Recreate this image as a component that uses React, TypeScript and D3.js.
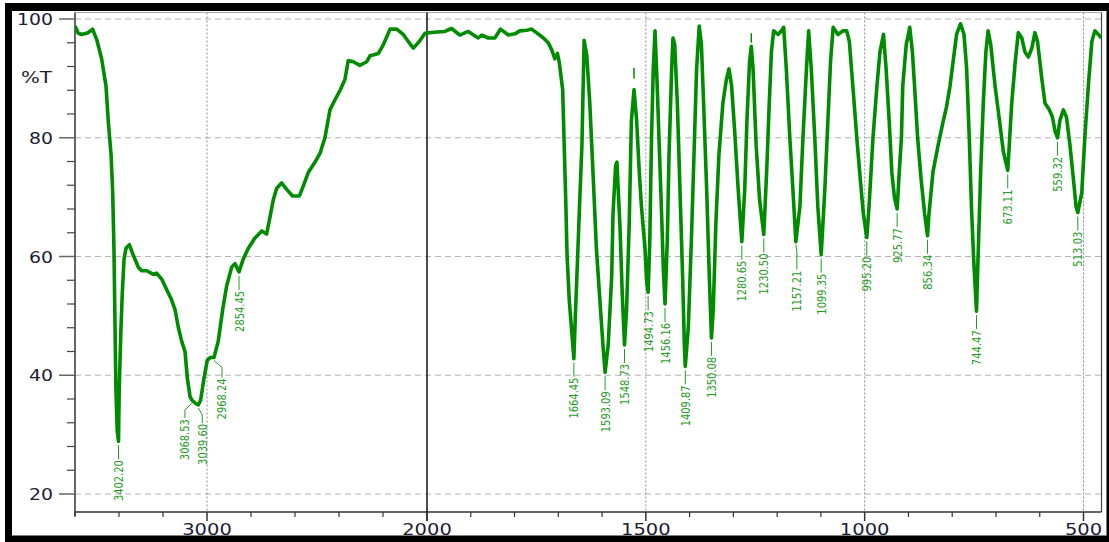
import React from "react";
import * as d3 from "d3";

// IR spectrum, wavenumber (cm-1) and %T
const wavenumbers = [
  3600, 3585, 3570, 3540, 3520, 3501, 3479, 3459, 3449, 3436, 3429, 3423, 3418, 3414, 3408, 3402.2, 3399, 3392, 3385, 3377,
  3368, 3353, 3335, 3312, 3297, 3274, 3244, 3229, 3206, 3183, 3161, 3145, 3130, 3115, 3100, 3089, 3077, 3068.53, 3050, 3039.6,
  3029, 3014, 2999, 2985, 2968.24, 2949, 2929, 2911, 2888, 2873, 2854.45, 2835, 2812, 2782, 2751, 2729, 2717, 2699, 2683, 2661,
  2638, 2611, 2580, 2562, 2539, 2509, 2486, 2464, 2441, 2418, 2395, 2373, 2358, 2335, 2305, 2274, 2259, 2221, 2198, 2168,
  2138, 2108, 2085, 2062, 2035, 2009,
  1978, 1959, 1944, 1925, 1906, 1883, 1875, 1860, 1845, 1832, 1814, 1799, 1788, 1772, 1761, 1750, 1734, 1723, 1715, 1708,
  1702, 1698, 1690, 1687, 1683, 1680, 1675, 1670, 1664.45, 1661, 1656, 1651, 1646, 1641, 1635, 1628, 1620, 1613, 1605, 1598,
  1593.09, 1586, 1578, 1575, 1569, 1566, 1562, 1559, 1554, 1548.73, 1544, 1538, 1533, 1527, 1521, 1515, 1510, 1502, 1498, 1494.73,
  1491, 1487, 1483, 1479, 1474, 1470, 1464, 1460, 1456.16, 1451, 1447, 1441, 1438, 1434, 1428, 1422, 1416, 1412, 1409.87, 1403,
  1396, 1390, 1384, 1378, 1373, 1368, 1361, 1355, 1350.08, 1346, 1340, 1333, 1324, 1316, 1310, 1304, 1297, 1289, 1284, 1280.65,
  1274, 1269, 1263, 1259, 1255, 1248, 1240, 1230.5, 1224, 1218, 1213, 1208, 1198, 1190, 1185, 1179, 1171, 1164, 1157.21, 1148,
  1141, 1133, 1128, 1122, 1114, 1107, 1099.35, 1091, 1084, 1078, 1072, 1061, 1050, 1041, 1035, 1027, 1018, 1010, 1003, 995.2,
  990, 981, 972, 965, 957, 951, 944, 938, 932, 925.77, 921, 916, 913, 905, 897, 891, 886, 879, 871, 863,
  856.34, 853, 844, 832, 822, 813, 805, 798, 790, 781, 773, 767, 761, 756, 751, 744.47, 741, 735, 729, 723,
  718, 712, 702, 692, 683, 673.11, 670, 664, 656, 649, 641, 634, 626, 618, 611, 605, 596, 588, 578, 571,
  565, 559.32, 554, 546, 539, 531, 523, 517, 513.03, 504, 497, 489, 481, 474, 466, 459,
];
const transmittance = [
  98.8, 97.6, 97.4, 97.7, 98.3, 96.5, 93.3, 88.7, 82.9, 77.1, 71.2, 61.4, 48.0, 37.6, 30.6, 28.9, 37.6, 46.9, 53.9, 59.6,
  61.4, 62.0, 60.2, 58.2, 57.6, 57.6, 57.0, 57.2, 56.2, 54.4, 52.7, 51.0, 48.0, 45.7, 44.0, 39.4, 36.4, 35.8, 35.2, 35.0,
  35.8, 39.4, 42.5, 43.0, 43.0, 45.7, 51.0, 55.0, 58.2, 58.8, 57.4, 59.6, 61.4, 63.1, 64.3, 63.8, 66.0, 69.5, 71.5, 72.4,
  71.3, 70.2, 70.2, 71.9, 74.2, 75.9, 77.4, 80.0, 84.7, 86.4, 88.0, 89.8, 93.0, 92.8, 92.2, 92.8, 93.8, 94.2, 95.7, 98.3,
  98.3, 97.4, 96.2, 95.1, 96.2, 97.6,
  97.8, 97.9, 98.4, 97.3, 97.9, 96.8, 97.3, 96.8, 96.8, 98.3, 97.3, 97.5, 98.0, 98.1, 98.3, 97.7, 96.8, 96.0, 94.8, 93.3,
  94.2, 92.8, 88.1, 80.0, 69.5, 60.3, 52.7, 48.0, 42.8, 50.0, 59.6, 69.5, 78.8, 96.4, 93.9, 85.8, 73.0, 61.4, 52.7, 45.1,
  40.5, 45.1, 56.7, 67.2, 75.3, 75.9, 69.5, 64.9, 53.9, 45.1, 51.0, 65.5, 82.9, 88.1, 82.9, 74.2, 68.4, 61.4, 55.6, 54.0,
  62.6, 80.0, 91.6, 98.0, 88.7, 80.0, 67.2, 57.9, 52.0, 62.6, 77.1, 91.6, 96.8, 95.7, 85.8, 71.3, 56.7, 45.1, 41.5, 48.0,
  62.6, 77.1, 91.6, 98.8, 95.7, 85.8, 71.3, 56.7, 46.3, 51.0, 65.5, 77.1, 85.8, 89.8, 91.6, 88.7, 81.1, 71.3, 66.0, 62.5,
  71.3, 82.9, 92.8, 95.4, 91.6, 78.8, 69.5, 63.7, 74.2, 85.8, 94.5, 98.0, 97.4, 98.0, 98.6, 91.6, 80.0, 71.3, 62.5, 68.4,
  80.0, 91.6, 98.0, 91.6, 80.0, 68.4, 60.3, 71.3, 82.9, 92.8, 98.6, 97.4, 98.0, 98.0, 96.2, 88.7, 80.0, 73.0, 67.2, 63.2,
  68.4, 80.0, 88.7, 94.5, 97.4, 91.6, 82.9, 74.2, 70.0, 68.0, 74.2, 80.0, 88.7, 95.7, 98.6, 94.5, 88.7, 80.0, 73.0, 67.2,
  63.5, 67.2, 74.2, 78.8, 82.3, 85.2, 88.7, 92.8, 97.4, 99.2, 97.4, 91.6, 80.0, 68.4, 59.6, 50.8, 59.6, 74.2, 85.8, 94.5,
  98.0, 95.7, 88.7, 82.9, 77.6, 74.5, 78.2, 85.8, 92.8, 97.7, 96.8, 94.5, 93.6, 95.1, 97.7, 96.2, 90.4, 85.8, 84.7, 83.5,
  81.1, 80.0, 82.9, 84.7, 83.5, 78.8, 73.0, 68.4, 67.4, 70.7, 80.0, 88.7, 96.2, 98.0, 97.4, 96.8,
];

// picked peaks
const peakWavenumbers = [
  3402.2, 3068.53, 3039.6, 2968.24, 2854.45, 1664.45, 1593.09, 1548.73, 1494.73, 1456.16, 1409.87, 1350.08,
  1280.65, 1230.5, 1157.21, 1099.35, 995.2, 925.77, 856.34, 744.47, 673.11, 559.32, 513.03,
];
const peakTransmittance = [
  28.9, 35.8, 35.0, 43.0, 57.4, 42.8, 40.5, 45.1, 54.0, 52.0, 41.5, 46.3,
  62.5, 63.7, 62.5, 60.3, 63.2, 68.0, 63.5, 50.8, 74.5, 80.0, 67.4,
];
// small maxima markers above two peaks: [wavenumber, top %T, bottom %T]
const peakMarks = [
  [1527, 91.8, 90.0],
  [1259, 97.6, 96.0],
];

const yTicks = [20, 40, 60, 80, 100];
const yMinorTicks = [24, 28, 32, 36, 44, 48, 52, 56, 64, 68, 72, 76, 84, 88, 92, 96];
const xLabelTicks = [3000, 2000, 1500, 1000, 500];
const xMinorTicks = [3600, 3400, 3200, 2800, 2600, 2400, 2200, 1900, 1800, 1700, 1600, 1400, 1300, 1200, 1100, 900, 800, 700, 600];

// label nudges for the crowded C-H group
const labelShift: Record<string, [number, number]> = {
  "3068.53": [-7, 0],
  "3039.60": [4, 0],
  "2968.24": [8, 2],
  "1157.21": [1, 10],
};

const W = 1109;
const H = 542;
const left = 75;
const right = 1101.5;
const top = 12.5;
const bottom = 512;

const green = "#008c00";
const labelGreen = "#1f9d1f";
const axisFont = "'DejaVu Sans', Verdana, sans-serif";
const peakFont = "'Liberation Sans Narrow', 'Arial Narrow', 'DejaVu Sans Condensed', sans-serif";

const App = () => {
  // scale break at 2000: left half is compressed 2x
  const x = d3.scaleLinear().domain([3600, 2000, 500]).range([left, 427, 1083.5]);
  const y = d3.scaleLinear().domain([20, 100]).range([494, 19]);

  const points: [number, number][] = wavenumbers.map((w, i) => [w, transmittance[i]]);
  const line = d3.line<[number, number]>()
    .x(d => x(d[0]))
    .y(d => y(d[1]));

  return (
    <svg width={W} height={H} style={{ position: "absolute", left: 0, top: 0, background: "#fff" }}>
      <defs>
        <clipPath id="plot">
          <rect x={left} y={top} width={right - left} height={bottom - top} />
        </clipPath>
      </defs>

      {/* horizontal grid */}
      {yTicks.map(t => (
        <line key={"gy" + t} x1={left} x2={right} y1={y(t)} y2={y(t)}
          stroke="#b4b4b4" strokeWidth={1.2} strokeDasharray="6,4" />
      ))}
      {/* vertical grid */}
      {xLabelTicks.filter(t => t !== 2000).map(t => (
        <line key={"gx" + t} x1={x(t)} x2={x(t)} y1={top} y2={bottom}
          stroke="#8a8a8a" strokeWidth={1} strokeDasharray="2,2" />
      ))}

      {/* plot frame */}
      <line x1={left} x2={right} y1={top} y2={top} stroke="#aaa" strokeWidth={1} />
      <line x1={right} x2={right} y1={top} y2={bottom} stroke="#444" strokeWidth={1.2} />
      <line x1={left} x2={left} y1={top} y2={bottom + 4} stroke="#333" strokeWidth={1.5} />
      <line x1={left} x2={right} y1={bottom} y2={bottom} stroke="#333" strokeWidth={1.5} />
      {/* scale break line */}
      <line x1={x(2000)} x2={x(2000)} y1={top} y2={bottom + 9} stroke="#111" strokeWidth={1.5} />

      {/* y ticks */}
      {yMinorTicks.map(t => (
        <line key={"ym" + t} x1={left - 8} x2={left} y1={y(t)} y2={y(t)} stroke="#444" strokeWidth={1.2} />
      ))}
      {yTicks.map(t => (
        <g key={"yt" + t}>
          <line x1={left - 16} x2={left} y1={y(t)} y2={y(t)} stroke="#666" strokeWidth={1.5} />
          <text x={53} y={y(t) + 6} textAnchor="end" fontFamily={axisFont} fontSize={16} fill="#1c1c34"
            textLength={String(t).length * 12} lengthAdjust="spacingAndGlyphs">{t}</text>
        </g>
      ))}
      <text x={52} y={83} textAnchor="end" fontFamily={axisFont} fontSize={16} fill="#1c1c34"
        textLength={31} lengthAdjust="spacingAndGlyphs">%T</text>

      {/* x ticks */}
      {xMinorTicks.map(t => (
        <line key={"xm" + t} x1={x(t)} x2={x(t)} y1={bottom} y2={bottom + 5} stroke="#333" strokeWidth={1.2} />
      ))}
      {xLabelTicks.map(t => (
        <g key={"xt" + t}>
          <line x1={x(t)} x2={x(t)} y1={bottom} y2={bottom + 9} stroke="#333" strokeWidth={1.5} />
          <text x={x(t)} y={535} textAnchor="middle" fontFamily={axisFont} fontSize={16} fill="#1c1c34"
            textLength={String(t).length * 12.4} lengthAdjust="spacingAndGlyphs">{t}</text>
        </g>
      ))}

      {/* spectrum */}
      <g clipPath="url(#plot)">
        <path d={line(points) ?? ""} fill="none" stroke={green} strokeWidth={3.6} strokeLinejoin="round" />
        {peakMarks.map(([w, t1, t2]) => (
          <line key={"pm" + w} x1={x(w)} x2={x(w)} y1={y(t1)} y2={y(t2)} stroke={green} strokeWidth={1.5} />
        ))}
      </g>

      {/* peak labels */}
      {peakWavenumbers.map((w, i) => {
        const label = w.toFixed(2);
        const [dx, dy] = labelShift[label] ?? [0, 0];
        const px = x(w);
        const py = y(peakTransmittance[i]);
        const tx = px + dx;
        const ty = py + 19 + dy;
        const leader = dx === 0
          ? `M${px},${py + 4}L${px},${ty - 1}`
          : `M${px},${py + 3}L${tx},${py + 10}L${tx},${ty - 1}`;
        return (
          <g key={"pk" + label}>
            <path d={leader} fill="none" stroke={labelGreen} strokeWidth={1} />
            <text transform={`translate(${tx + 4.5},${ty}) rotate(-90)`} textAnchor="end"
              fontFamily={peakFont} fontSize={13} fill={labelGreen}
              textLength={label.length * 5.85} lengthAdjust="spacingAndGlyphs">{label}</text>
          </g>
        );
      })}

      {/* outer frame */}
      <rect x={5} y={3} width={1104} height={8} fill="#000" />
      <rect x={5} y={3} width={7} height={539} fill="#000" />
      <rect x={5} y={535.5} width={1104} height={7} fill="#000" />
      <rect x={1106.5} y={3} width={2.5} height={539} fill="#000" />
    </svg>
  );
};

export default App;
